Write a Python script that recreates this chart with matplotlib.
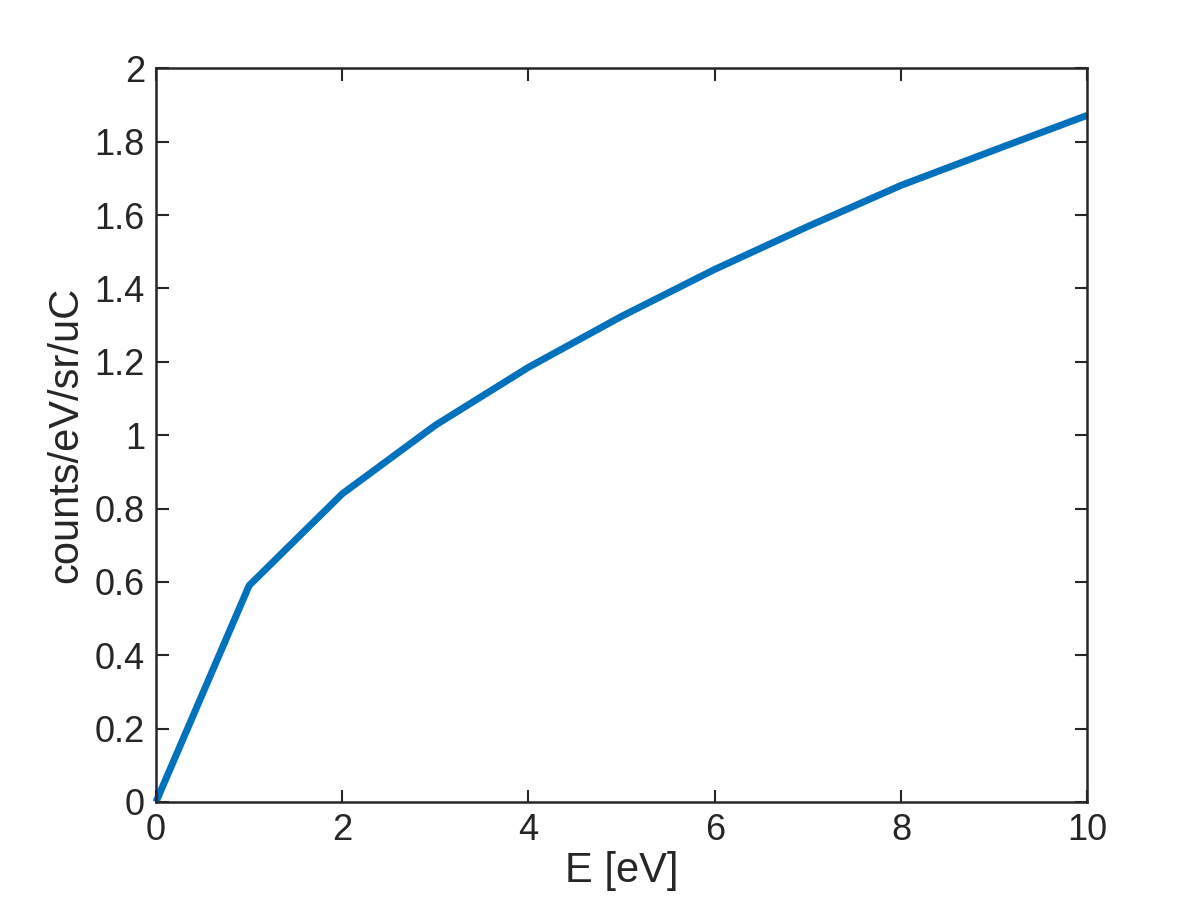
import matplotlib

matplotlib.use("Agg")
import matplotlib.pyplot as plt

# values
energy_ev = [0, 1, 2, 3, 4, 5, 6, 7, 8, 9, 10]
counts = [0.0, 0.59, 0.84, 1.027, 1.185, 1.324, 1.452, 1.569, 1.681, 1.777, 1.872]

plt.rcParams["font.family"] = ["Liberation Sans", "DejaVu Sans"]
axis_col = "#262626"

fig = plt.figure(figsize=(12, 9), dpi=100)
ax = fig.add_axes([0.13, 0.109, 0.776, 0.815])
ax.plot(energy_ev, counts, color="#0072BD", lw=5, solid_capstyle="butt", clip_on=False)

ax.set_xlim(0, 10)
ax.set_ylim(0, 2)
ax.set_xticks(range(0, 11, 2))
ax.set_yticks([0, 0.2, 0.4, 0.6, 0.8, 1, 1.2, 1.4, 1.6, 1.8, 2])
ax.set_yticklabels(["0", "0.2", "0.4", "0.6", "0.8", "1", "1.2", "1.4", "1.6", "1.8", "2"])
ax.tick_params(direction="in", length=9, width=1.5, colors=axis_col,
               labelsize=26, top=True, right=True, pad=8)
for s in ax.spines.values():
    s.set_linewidth(1.8)
    s.set_color(axis_col)

ax.set_xlabel("E [eV]", fontsize=30, color=axis_col, labelpad=2)
ax.set_ylabel("counts/eV/sr/uC", fontsize=30, color=axis_col, labelpad=6)

fig.savefig("out.png", dpi=100)
